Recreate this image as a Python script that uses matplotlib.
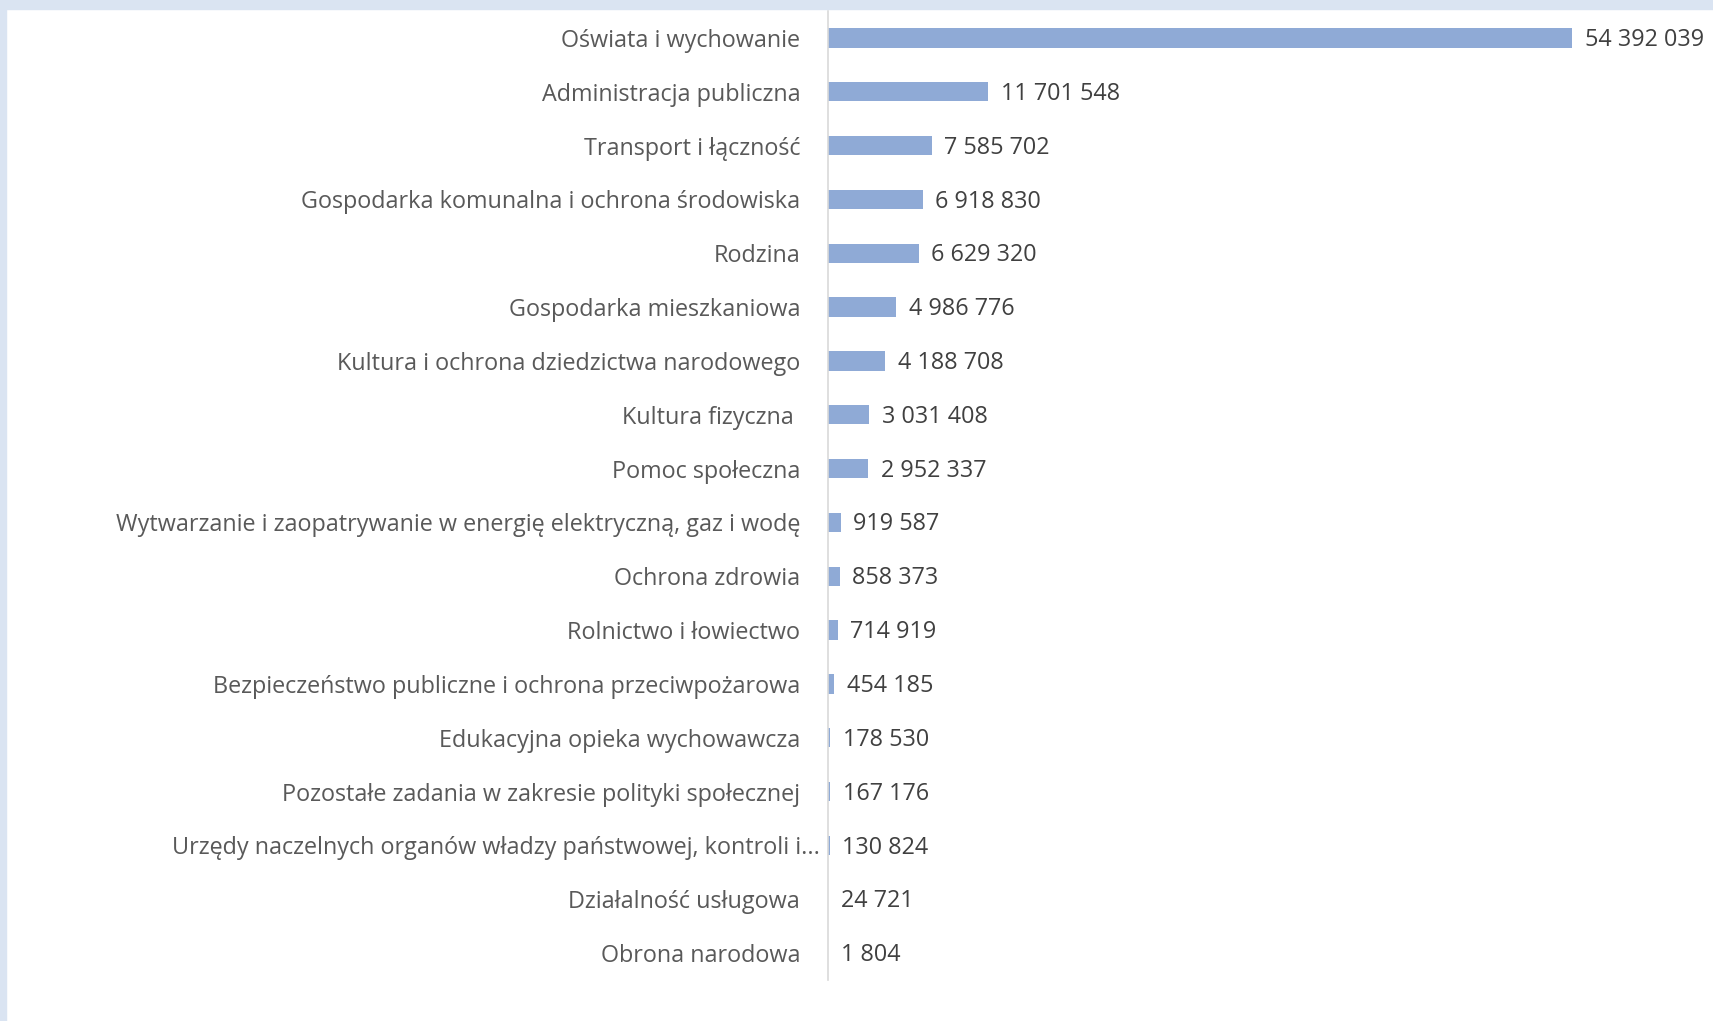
import matplotlib.pyplot as plt
import matplotlib.transforms as mtransforms
from matplotlib.patches import Rectangle

categories = [
    "Oświata i wychowanie",
    "Administracja publiczna",
    "Transport i łączność",
    "Gospodarka komunalna i ochrona środowiska",
    "Rodzina",
    "Gospodarka mieszkaniowa",
    "Kultura i ochrona dziedzictwa narodowego",
    "Kultura fizyczna ",
    "Pomoc społeczna",
    "Wytwarzanie i zaopatrywanie w energię elektryczną, gaz i wodę",
    "Ochrona zdrowia",
    "Rolnictwo i łowiectwo",
    "Bezpieczeństwo publiczne i ochrona przeciwpożarowa",
    "Edukacyjna opieka wychowawcza",
    "Pozostałe zadania w zakresie polityki społecznej",
    "Urzędy naczelnych organów władzy państwowej, kontroli i...",
    "Działalność usługowa",
    "Obrona narodowa",
]
values = [54392039, 11701548, 7585702, 6918830, 6629320, 4986776, 4188708,
          3031408, 2952337, 919587, 858373, 714919, 454185, 178530, 167176,
          130824, 24721, 1804]

plt.rcParams['font.family'] = ['Open Sans', 'DejaVu Sans']

fig = plt.figure(figsize=(17.13, 10.21), dpi=100)
fig.patch.set_facecolor('white')
# light blue frame at top and left
fig.patches.append(Rectangle((0, 1 - 9 / 1021), 1, 9 / 1021, transform=fig.transFigure,
                             color='#dae4f2', zorder=0))
fig.patches.append(Rectangle((0, 0), 6 / 1713, 1, transform=fig.transFigure,
                             color='#dae4f2', zorder=0))

ax = fig.add_axes([828 / 1713, 41 / 1021, 821 / 1713, 969 / 1021])
y = list(range(len(categories)))
ax.barh(y, values, height=0.36, color='#8faad6')
ax.set_ylim(len(categories) - 0.5, -0.5)
ax.set_xlim(0, 60000000)

ax.set_yticks(y)
ax.set_yticklabels(categories, fontsize=16.8, color='#595959')
ax.tick_params(axis='y', length=0, pad=20)
ax.set_xticks([])
for s in ['top', 'right', 'bottom']:
    ax.spines[s].set_visible(False)
ax.spines['left'].set_color('#d9d9d9')
ax.spines['left'].set_linewidth(1.2)

# the truncated label sits closer to the axis
lab = ax.get_yticklabels()[15]
lab.set_transform(lab.get_transform() +
                  mtransforms.ScaledTranslation(14 / 72, 0, fig.dpi_scale_trans))

for yi, v in zip(y, values):
    ax.annotate(f"{v:,}".replace(",", " "), (v, yi), xytext=(9, -1.5),
                textcoords='offset points', va='center', ha='left',
                fontsize=16.8, color='#404040')

fig.savefig('out.png', dpi=100, facecolor='white')
